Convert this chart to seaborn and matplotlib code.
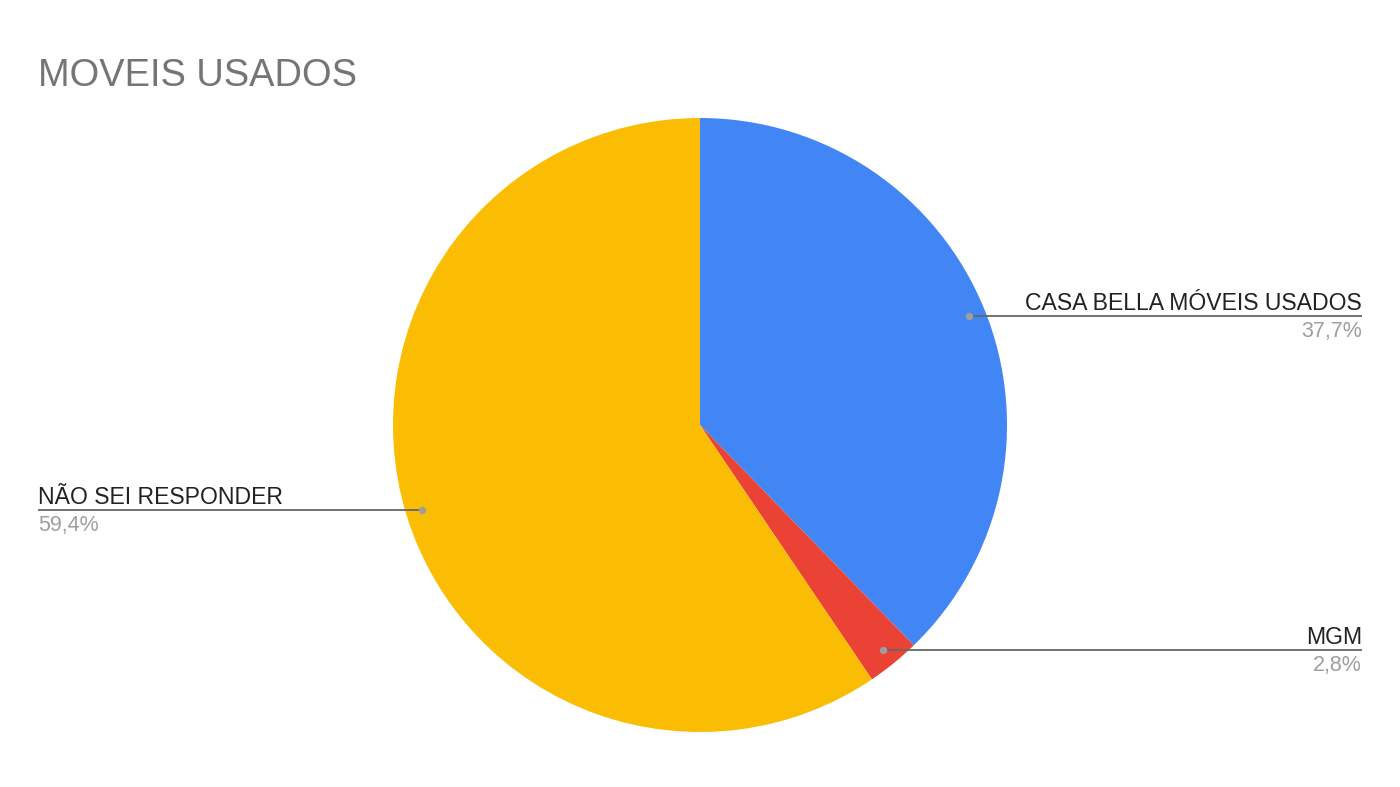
import matplotlib
matplotlib.use("Agg")
import matplotlib.pyplot as plt
import seaborn as sns
import numpy as np

title = "MOVEIS USADOS"
labels = ["CASA BELLA MÓVEIS USADOS", "MGM", "NÃO SEI RESPONDER"]
values = [37.7, 2.8, 59.4]
colors = ["#4285F4", "#EA4335", "#FBBC04"]
pct_labels = ["37,7%", "2,8%", "59,4%"]

sns.set_theme(style="white")
plt.rcParams['font.family'] = ['Liberation Sans', 'DejaVu Sans']

W, H = 1400, 787
fig = plt.figure(figsize=(W / 100, H / 100), dpi=100)
ax = fig.add_axes([0, 0, 1, 1])

cx, cy, R = 700, H - 425, 307
wedges, _ = ax.pie(values, colors=colors, startangle=90, counterclock=False,
                   center=(cx, cy), radius=R,
                   wedgeprops=dict(linewidth=0, antialiased=True))
ax.set_xlim(0, W)
ax.set_ylim(0, H)
ax.set_aspect('equal')
ax.axis('off')

left_x, right_x = 38, 1362
for w, lab, pct in zip(wedges, labels, pct_labels):
    mid = np.deg2rad((w.theta1 + w.theta2) / 2)
    dx = cx + 0.946 * R * np.cos(mid)
    dy = cy + 0.946 * R * np.sin(mid)
    if np.cos(mid) >= 0:
        ex, ha = right_x, 'right'
    else:
        ex, ha = left_x, 'left'
    ax.plot([dx, ex], [dy, dy], color="#666666", lw=1.3, zorder=3,
            solid_capstyle='butt')
    ax.scatter([dx], [dy], s=28, color="#9e9e9e", zorder=4, linewidths=0)
    ax.text(ex, dy + 6, lab, ha=ha, va='baseline', fontsize=16.6,
            color="#222222")
    ax.text(ex, dy - 21, pct, ha=ha, va='baseline', fontsize=15.5,
            color="#9e9e9e")

ax.text(38, H - 86, title, ha='left', va='baseline', fontsize=27.4,
        color="#757575")

fig.savefig("out.png", dpi=100, facecolor="white")
